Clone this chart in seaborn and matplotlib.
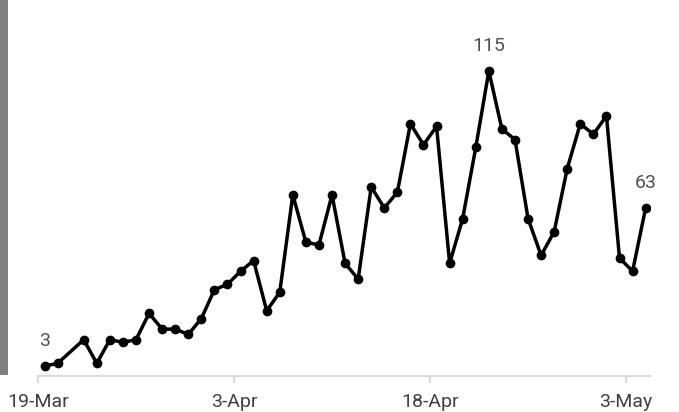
import pandas as pd
import matplotlib
matplotlib.use("Agg")
import matplotlib.pyplot as plt
from matplotlib.patches import Rectangle
import seaborn as sns

# daily values (21-Mar has no point)
dates = ["2020-03-19", "2020-03-20", "2020-03-22", "2020-03-23", "2020-03-24",
         "2020-03-25", "2020-03-26", "2020-03-27", "2020-03-28", "2020-03-29",
         "2020-03-30", "2020-03-31", "2020-04-01", "2020-04-02", "2020-04-03",
         "2020-04-04", "2020-04-05", "2020-04-06", "2020-04-07", "2020-04-08",
         "2020-04-09", "2020-04-10", "2020-04-11", "2020-04-12", "2020-04-13",
         "2020-04-14", "2020-04-15", "2020-04-16", "2020-04-17", "2020-04-18",
         "2020-04-19", "2020-04-20", "2020-04-21", "2020-04-22", "2020-04-23",
         "2020-04-24", "2020-04-25", "2020-04-26", "2020-04-27", "2020-04-28",
         "2020-04-29", "2020-04-30", "2020-05-01", "2020-05-02", "2020-05-03",
         "2020-05-04"]
values = [3, 4, 13, 4, 13, 12, 13, 23, 17, 17, 15, 21, 32, 34, 39, 43, 24, 31,
          68, 50, 49, 68, 42, 36, 71, 63, 69, 95, 87, 94, 42, 59, 86, 115, 93,
          89, 59, 45, 54, 78, 95, 91, 98, 44, 39, 63]

tick_dates = ["2020-03-19", "2020-04-03", "2020-04-18", "2020-05-03"]
tick_labels = ["19-Mar", "3-Apr", "18-Apr", "3-May"]

df = pd.DataFrame({"date": pd.to_datetime(dates) + pd.Timedelta(hours=12),
                   "value": values})

sns.set_style("white")
plt.rcParams["font.family"] = ["Roboto", "DejaVu Sans"]

fig = plt.figure(figsize=(6.79, 4.12), dpi=100)
ax = fig.add_axes([38 / 679, 36 / 412, 612 / 679, 376 / 412])

sns.lineplot(data=df, x="date", y="value", ax=ax, color="black",
             linewidth=2.5, marker="o", markersize=7, markeredgewidth=0)

# labels for first, highest and last point
for i in [0, df["value"].idxmax(), len(df) - 1]:
    ax.annotate(str(df["value"][i]), (df["date"][i], df["value"][i]),
                xytext=(0, 18), textcoords="offset points",
                ha="center", va="center", fontsize=14, color="#505050")

ax.set_xlim(pd.Timestamp("2020-03-19"), pd.Timestamp("2020-05-04 20:00"))
ax.set_ylim(-0.8, 142)
ax.set_xticks(pd.to_datetime(tick_dates))
ax.set_xticklabels(tick_labels)
ax.set_yticks([])
ax.set_xlabel("")
ax.set_ylabel("")

for s in ["top", "right", "left"]:
    ax.spines[s].set_visible(False)
ax.spines["bottom"].set_color("#d9d9d9")
ax.spines["bottom"].set_linewidth(1.5)
ax.tick_params(axis="x", bottom=True, length=5, width=1.5, color="#d9d9d9",
               pad=7, labelsize=14, labelcolor="#404040")

# grey bar on the left edge
fig.add_artist(Rectangle((0, 37 / 412), 8 / 679, 375 / 412,
                         transform=fig.transFigure, color="#808080", lw=0))

fig.savefig("out.png", dpi=100)
